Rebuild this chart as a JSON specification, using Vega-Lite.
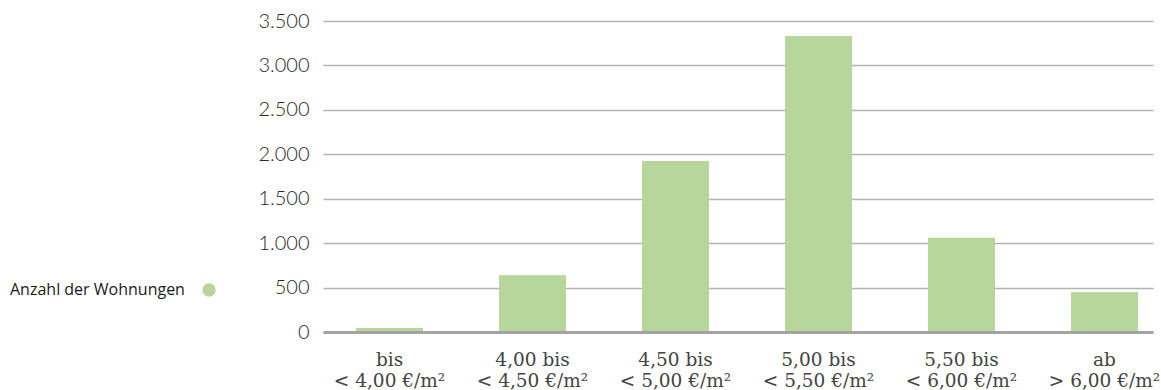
{
  "$schema": "https://vega.github.io/schema/vega-lite/v6.json",
  "width": 830,
  "height": 311,
  "autosize": {"type": "none"},
  "padding": {"left": 323, "top": 21, "right": 8, "bottom": 58},
  "background": "white",
  "data": {
    "values": [
      {"kat": "bis|< 4,00 €/m²", "anzahl": 45, "serie": "Anzahl der Wohnungen"},
      {"kat": "4,00 bis|< 4,50 €/m²", "anzahl": 640, "serie": "Anzahl der Wohnungen"},
      {"kat": "4,50 bis|< 5,00 €/m²", "anzahl": 1925, "serie": "Anzahl der Wohnungen"},
      {"kat": "5,00 bis|< 5,50 €/m²", "anzahl": 3330, "serie": "Anzahl der Wohnungen"},
      {"kat": "5,50 bis|< 6,00 €/m²", "anzahl": 1060, "serie": "Anzahl der Wohnungen"},
      {"kat": "ab|> 6,00 €/m²", "anzahl": 450, "serie": "Anzahl der Wohnungen"}
    ]
  },
  "mark": {"type": "bar"},
  "encoding": {
    "x": {
      "field": "kat",
      "type": "nominal",
      "sort": null,
      "scale": {"paddingInner": 0.5315, "paddingOuter": 0.168, "align": 0.6875},
      "axis": {
        "title": null,
        "labelAngle": 0,
        "labelExpr": "split(datum.value, '|')",
        "labelFont": "DejaVu Serif",
        "labelFontSize": 18.5,
        "labelColor": "#444444",
        "labelLineHeight": 21,
        "labelPadding": 18,
        "ticks": false,
        "tickSize": 0,
        "domainColor": "#a3a3a3",
        "domainWidth": 3,
        "zindex": 1
      }
    },
    "y": {
      "field": "anzahl",
      "type": "quantitative",
      "scale": {"domain": [0, 3500], "nice": false},
      "axis": {
        "title": null,
        "values": [0, 500, 1000, 1500, 2000, 2500, 3000, 3500],
        "labelExpr": "replace(format(datum.value, ','), ',', '.')",
        "labelFont": "Lato",
        "labelFontWeight": 300,
        "labelFontSize": 20,
        "labelColor": "#2a2a2a",
        "labelPadding": 14,
        "domain": false,
        "ticks": false,
        "tickSize": 0,
        "grid": true,
        "gridColor": "#b3b3b3",
        "gridWidth": 1.5
      }
    },
    "color": {
      "field": "serie",
      "type": "nominal",
      "scale": {"range": ["#b7d69b"]},
      "legend": {
        "orient": "none",
        "legendX": -313,
        "legendY": 262,
        "title": "Anzahl der Wohnungen",
        "titleOrient": "left",
        "titleFont": "Open Sans",
        "titleFontSize": 16,
        "titleFontWeight": 500,
        "titleColor": "#1a1a1a",
        "titlePadding": 17,
        "titleBaseline": "middle",
        "labelExpr": "''",
        "symbolType": "circle",
        "symbolSize": 177,
        "symbolStrokeWidth": 0
      }
    }
  },
  "config": {"view": {"stroke": null}}
}
